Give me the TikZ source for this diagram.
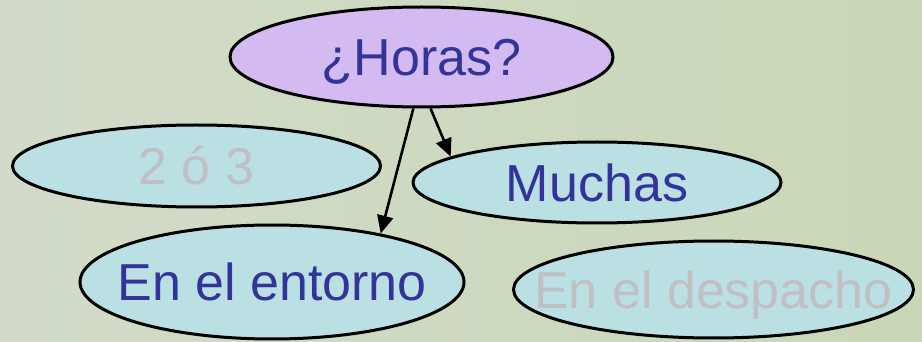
\documentclass[tikz,border=0pt]{standalone}
\usepackage{fontspec}
\setmainfont{Liberation Sans}
\usetikzlibrary{shapes.geometric,arrows.meta}
\definecolor{bgleft}{RGB}{210,219,202}
\definecolor{bgright}{RGB}{201,215,182}
\definecolor{lavender}{RGB}{211,187,242}
\definecolor{paleblue}{RGB}{186,224,227}
\definecolor{inkblue}{RGB}{51,51,153}
\definecolor{inkgray}{RGB}{192,192,196}

\begin{document}
\begin{tikzpicture}[x=1pt,y=-1pt,
  oval/.style={ellipse,draw=black,line width=3pt,inner sep=0pt,
    font=\fontsize{52}{60}\selectfont,text height=41.6pt,text depth=4.4pt},
  question/.style={oval,fill=lavender,text=inkblue},
  answer/.style={oval,fill=paleblue,text=inkblue},
  faded/.style={oval,fill=paleblue,text=inkgray},
  arr/.style={line width=2.6pt,-{Triangle[length=18pt,width=16pt]}}]
\useasboundingbox (0,0) rectangle (922,342);
\shade[left color=bgleft,right color=bgright] (0,0) rectangle (922,342);
\node[question,minimum width=383pt,minimum height=100pt] (horas) at (421.5,57) {\makebox[0pt]{¿Horas?}};
\node[faded,minimum width=368pt,minimum height=82pt] (dosotres) at (196.5,166) {\makebox[0pt]{2 ó 3}};
\node[answer,minimum width=368pt,minimum height=81pt] (muchas) at (597,182.5) {\makebox[0pt]{Muchas}};
\node[answer,minimum width=384pt,minimum height=114pt] (entorno) at (272,282) {\makebox[0pt]{En el entorno}};
\node[faded,minimum width=400pt,minimum height=97pt] (despacho) at (713.5,289.5) {\makebox[0pt]{En el despacho}};
% arrows from the question
\draw[arr] (horas.261) -- (entorno.24);
\draw[arr] (horas.280) -- (muchas.170);
\end{tikzpicture}
\end{document}
